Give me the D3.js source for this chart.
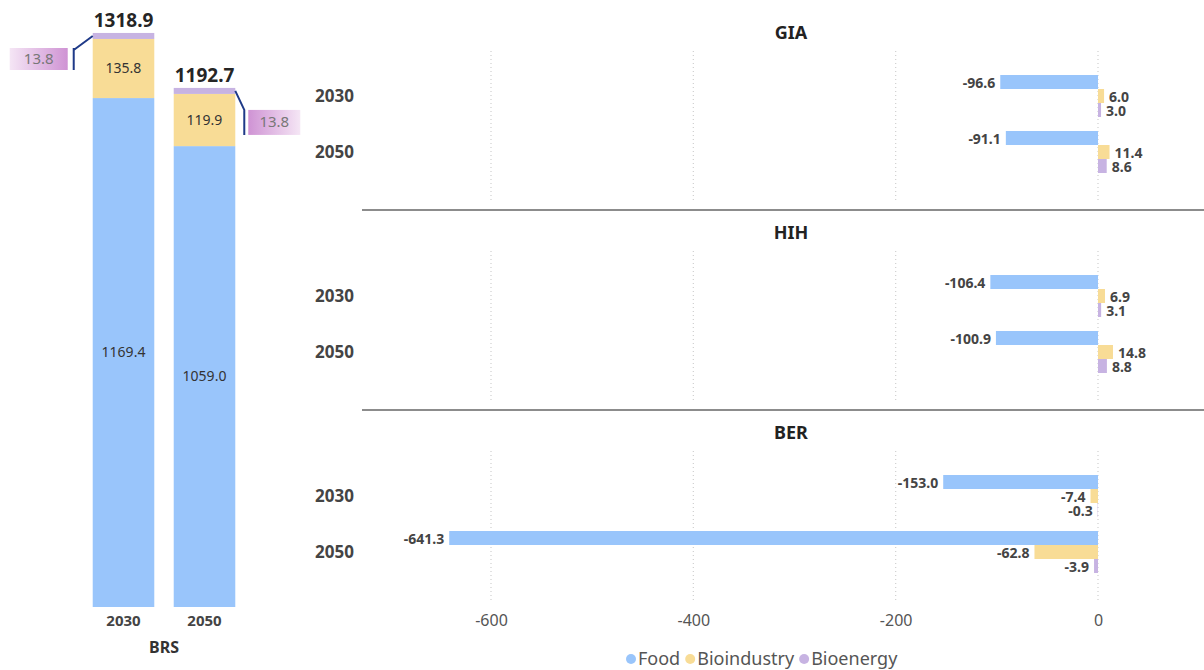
<!doctype html>
<html lang="en">
<head>
  <meta charset="utf-8">
  <title>BRS land use by scenario</title>
  <script src="https://cdn.jsdelivr.net/npm/d3@7"></script>
  <style>
    body { margin: 0; background: #fff; font-family: "Segoe UI", "Noto Sans", "Open Sans", sans-serif; }
  </style>
</head>
<body>
  <svg width="1204" height="670"></svg>

  <script>
    // data
    var years = ["2030", "2050"];
    var series = ["Food", "Bioindustry", "Bioenergy"];
    var colors = ["#99C5FB", "#F8DC96", "#C7B3E2"];

    // BRS stacked totals (left chart)
    var brsFood = [1169.4, 1059.0];
    var brsBioindustry = [135.8, 119.9];
    var brsBioenergy = [13.8, 13.8];
    var brsTotal = [1318.9, 1192.7];

    // differences per scenario (right chart)
    var scenarios = ["GIA", "HIH", "BER"];
    var giaValues = [[-96.6, 6.0, 3.0], [-91.1, 11.4, 8.6]];
    var hihValues = [[-106.4, 6.9, 3.1], [-100.9, 14.8, 8.8]];
    var berValues = [[-153.0, -7.4, -0.3], [-641.3, -62.8, -3.9]];
    var scenarioValues = [giaValues, hihValues, berValues];

    var xTicks = [-600, -400, -200, 0];

    // plain hyphen for negatives, like the original
    var locale = d3.formatLocale({ decimal: ".", thousands: ",", grouping: [3], currency: ["", ""], minus: "-" });
    var f1 = locale.format(".1f");
    var f0 = locale.format("d");

    var svg = d3.select("svg");
    var color = d3.scaleOrdinal().domain(series).range(colors);

    // ---------- left: BRS stacked columns ----------
    var xl = d3.scaleBand().domain(years).range([83, 245]).paddingInner(0.24).paddingOuter(0.12);
    var yl = d3.scaleLinear().domain([0, 1318.9]).range([607, 33]);

    var brsRows = years.map(function(y, i) {
      return { year: y, Food: brsFood[i], Bioindustry: brsBioindustry[i], Bioenergy: brsBioenergy[i] };
    });
    var stack = d3.stack().keys(series)(brsRows);

    var left = svg.append("g");
    left.selectAll("g.layer")
      .data(stack)
      .join("g")
        .attr("fill", d => color(d.key))
      .selectAll("rect")
      .data(d => d)
      .join("rect")
        .attr("x", d => xl(d.data.year))
        .attr("width", xl.bandwidth())
        .attr("y", d => yl(d[1]))
        .attr("height", d => yl(d[0]) - yl(d[1]));

    // segment labels (Food, Bioindustry)
    [0, 1].forEach(function(k) {
      left.selectAll("text.seg" + k)
        .data(stack[k])
        .join("text")
          .attr("x", d => xl(d.data.year) + xl.bandwidth() / 2)
          .attr("y", d => (yl(d[0]) + yl(d[1])) / 2)
          .attr("dy", "0.35em")
          .attr("text-anchor", "middle")
          .style("font-size", "14px")
          .style("fill", "#333")
          .text(d => f1(d[1] - d[0]));
    });

    // totals
    left.selectAll("text.total")
      .data(years)
      .join("text")
        .attr("x", d => xl(d) + xl.bandwidth() / 2)
        .attr("y", (d, i) => yl(brsTotal[i]) - 6)
        .attr("text-anchor", "middle")
        .style("font-size", "19px")
        .style("font-weight", "bold")
        .style("fill", "#252525")
        .text((d, i) => f1(brsTotal[i]));

    // callouts for the small bioenergy segment
    var defs = svg.append("defs");
    var g1 = defs.append("linearGradient").attr("id", "gradL");
    g1.append("stop").attr("offset", "0%").attr("stop-color", "#f5e6f5");
    g1.append("stop").attr("offset", "100%").attr("stop-color", "#cf93d4");
    var g2 = defs.append("linearGradient").attr("id", "gradR");
    g2.append("stop").attr("offset", "0%").attr("stop-color", "#cf93d4");
    g2.append("stop").attr("offset", "100%").attr("stop-color", "#f5e6f5");

    var segTop0 = yl(brsTotal[0]) + 3;
    var bx0 = xl(years[0]);
    left.append("rect").attr("x", bx0 - 83).attr("y", segTop0 + 12).attr("width", 58).attr("height", 22)
      .attr("fill", "url(#gradL)");
    left.append("text").attr("x", bx0 - 54).attr("y", segTop0 + 23).attr("dy", "0.35em")
      .attr("text-anchor", "middle").style("font-size", "15px").style("fill", "#777")
      .text(f1(brsBioenergy[0]));
    left.append("path")
      .attr("d", "M" + bx0 + "," + segTop0 + " L" + (bx0 - 19) + "," + (segTop0 + 14) +
        " M" + (bx0 - 19) + "," + (segTop0 + 12) + " L" + (bx0 - 19) + "," + (segTop0 + 34))
      .attr("fill", "none").attr("stroke", "#1f3a88").attr("stroke-width", 2);

    var segTop1 = yl(brsTotal[1]) + 3;
    var bx1 = xl(years[1]) + xl.bandwidth();
    left.append("rect").attr("x", bx1 + 13).attr("y", segTop1 + 19).attr("width", 52).attr("height", 25)
      .attr("fill", "url(#gradR)");
    left.append("text").attr("x", bx1 + 39).attr("y", segTop1 + 31).attr("dy", "0.35em")
      .attr("text-anchor", "middle").style("font-size", "15px").style("fill", "#777")
      .text(f1(brsBioenergy[1]));
    left.append("path")
      .attr("d", "M" + bx1 + "," + segTop1 + " L" + (bx1 + 9) + "," + (segTop1 + 19) +
        " L" + (bx1 + 9) + "," + (segTop1 + 44))
      .attr("fill", "none").attr("stroke", "#1f3a88").attr("stroke-width", 2);

    // bottom axis
    left.selectAll("text.yr")
      .data(years)
      .join("text")
        .attr("x", d => xl(d) + xl.bandwidth() / 2)
        .attr("y", 621)
        .attr("dy", "0.35em")
        .attr("text-anchor", "middle")
        .style("font-size", "15px")
        .style("font-weight", "bold")
        .style("fill", "#444")
        .text(d => d);
    left.append("text")
      .attr("x", 164).attr("y", 647).attr("dy", "0.35em")
      .attr("text-anchor", "middle")
      .style("font-size", "16px").style("font-weight", "bold").style("fill", "#333")
      .text("BRS");

    // ---------- right: small multiples ----------
    var xr = d3.scaleLinear().domain([-600, 0]).range([491, 1098]);
    var panelH = 200;

    scenarios.forEach(function(name, p) {
      var top = p * panelH;
      var g = svg.append("g").attr("transform", "translate(0," + top + ")");

      // dotted grid
      g.selectAll("line.grid")
        .data(xTicks)
        .join("line")
          .attr("x1", d => xr(d)).attr("x2", d => xr(d))
          .attr("y1", 51).attr("y2", 200)
          .attr("stroke", "#cfcfcf").attr("stroke-width", 1.2)
          .attr("stroke-dasharray", "1,3");

      g.append("text")
        .attr("x", 791).attr("y", 33).attr("dy", "0.35em")
        .attr("text-anchor", "middle")
        .style("font-size", "18px").style("font-weight", "bold").style("fill", "#222")
        .text(name);

      var yb = d3.scaleBand().domain(years).range([68, 180]).paddingInner(0.25).paddingOuter(0.125);
      var ys = d3.scaleBand().domain(series).range([0, yb.bandwidth()]);

      g.selectAll("text.cat")
        .data(years)
        .join("text")
          .attr("x", 354)
          .attr("y", d => yb(d) + yb.bandwidth() / 2)
          .attr("dy", "0.35em")
          .attr("text-anchor", "end")
          .style("font-size", "17px").style("font-weight", "bold").style("fill", "#444")
          .text(d => d);

      var rows = [];
      years.forEach(function(yr, i) {
        series.forEach(function(s, j) {
          rows.push({ year: yr, key: s, value: scenarioValues[p][i][j] });
        });
      });

      g.selectAll("rect.bar")
        .data(rows)
        .join("rect")
          .attr("x", d => xr(Math.min(0, d.value)))
          .attr("width", d => Math.abs(xr(d.value) - xr(0)))
          .attr("y", d => yb(d.year) + ys(d.key))
          .attr("height", ys.bandwidth())
          .attr("fill", d => color(d.key));

      g.selectAll("text.val")
        .data(rows)
        .join("text")
          .attr("x", d => d.value < 0 ? xr(d.value) - 5 : xr(d.value) + 5)
          .attr("y", d => yb(d.year) + ys(d.key) + ys.bandwidth() / 2 + 1)
          .attr("dy", "0.35em")
          .attr("text-anchor", d => d.value < 0 ? "end" : "start")
          .style("font-size", "14px").style("font-weight", "bold").style("fill", "#444")
          .text(d => f1(d.value));

      if (p > 0) {
        g.append("line")
          .attr("x1", 362).attr("x2", 1204)
          .attr("y1", 10).attr("y2", 10)
          .attr("stroke", "#666").attr("stroke-width", 1.5);
      }
    });

    // x axis labels
    svg.append("g")
      .attr("transform", "translate(0,615)")
      .call(d3.axisBottom(xr).tickValues(xTicks).tickSize(0).tickPadding(0).tickFormat(f0))
      .call(g => g.select(".domain").remove())
      .call(g => g.selectAll("text")
        .style("font-size", "16px")
        .style("font-family", "'Segoe UI', 'Noto Sans', sans-serif")
        .style("fill", "#555"));

    // legend
    var legend = svg.append("g");
    var lx = 631;
    series.forEach(function(s) {
      legend.append("circle").attr("cx", lx).attr("cy", 659).attr("r", 5).attr("fill", color(s));
      var t = legend.append("text").attr("x", lx + 7).attr("y", 659).attr("dy", "0.35em")
        .style("font-size", "18px").style("fill", "#555").text(s);
      lx += 7 + t.node().getComputedTextLength() + 10;
    });
  </script>
</body>
</html>
